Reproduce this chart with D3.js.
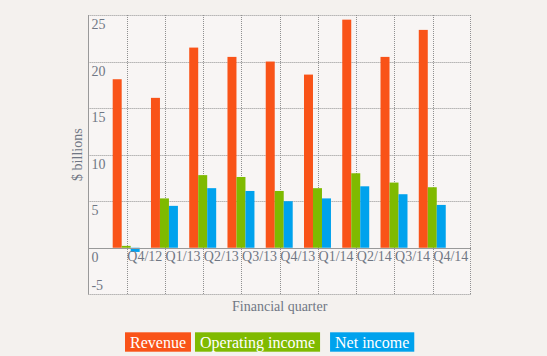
<!DOCTYPE html>
<html>
<head>
<meta charset="utf-8">
<script src="https://cdn.jsdelivr.net/npm/d3@7/dist/d3.min.js"></script>
<style>
  html, body { margin: 0; padding: 0; background: #f4f1ee; }
  svg { display: block; }
  text { font-family: "Liberation Serif", "Times New Roman", serif; }
</style>
</head>
<body>
<svg id="chart" width="547" height="356"></svg>
<script>
// ---- data ----
const quarters = ["Q4/12", "Q1/13", "Q2/13", "Q3/13", "Q4/13", "Q1/14", "Q2/14", "Q3/14", "Q4/14"];
const seriesNames = ["Revenue", "Operating income", "Net income"];
const revenue   = [18.1, 16.1, 21.5, 20.5, 20.0, 18.6, 24.5, 20.5, 23.4];
const operating = [0.2, 5.3, 7.8, 7.6, 6.1, 6.4, 8.0, 7.0, 6.5];
const netIncome = [-0.45, 4.5, 6.4, 6.1, 5.0, 5.3, 6.6, 5.75, 4.6];
const yTicks = [-5, 0, 5, 10, 15, 20, 25];
const colors = ["#f95318", "#7fba00", "#00a2ed"];

// ---- layout ----
const svg = d3.select("#chart");
const pLeft = 88.4, pRight = 471, pTop = 15, pBottom = 294.3;
const step = (pRight - pLeft) / (quarters.length + 1);

const y = d3.scaleLinear().domain([-5, 25]).range([pBottom, pTop]);
const x = d3.scaleBand().domain(quarters).range([pLeft + step, pRight]).padding(0);
const bw = x.bandwidth();
const xs = d3.scaleBand().domain(seriesNames).range([-0.365 * bw, 0.34 * bw]).padding(0);

const values = [revenue, operating, netIncome];

// plot background
svg.append("rect").attr("x", pLeft).attr("y", pTop)
  .attr("width", pRight - pLeft).attr("height", pBottom - pTop)
  .attr("fill", "#f8f5f4");

// grid
const grid = svg.append("g").attr("stroke", "#909090").attr("stroke-dasharray", "1,1").attr("fill", "none");
yTicks.filter(t => t !== 0).forEach(t => {
  grid.append("line").attr("x1", pLeft).attr("x2", pRight)
    .attr("y1", Math.round(y(t)) + 0.5).attr("y2", Math.round(y(t)) + 0.5);
});
quarters.forEach(q => {
  const gx = Math.round(x(q)) + 0.5;
  grid.append("line").attr("x1", gx).attr("x2", gx).attr("y1", pTop).attr("y2", pBottom);
});
grid.append("line").attr("x1", pRight - 0.5).attr("x2", pRight - 0.5).attr("y1", pTop).attr("y2", pBottom);

// bars
seriesNames.forEach((s, si) => {
  svg.append("g").selectAll("rect").data(quarters).join("rect")
    .attr("x", (q) => x(q) + xs(s))
    .attr("width", xs.bandwidth())
    .attr("y", (q, i) => y(Math.max(0, values[si][i])))
    .attr("height", (q, i) => Math.abs(y(values[si][i]) - y(0)))
    .attr("fill", colors[si]);
});

// axes lines
svg.append("line").attr("x1", pLeft).attr("x2", pRight)
  .attr("y1", Math.round(y(0)) + 0.5).attr("y2", Math.round(y(0)) + 0.5)
  .attr("stroke", "#999");
svg.append("line").attr("x1", Math.round(pLeft) + 0.5).attr("x2", Math.round(pLeft) + 0.5)
  .attr("y1", pTop).attr("y2", pBottom).attr("stroke", "#999");

// y tick labels (inside plot)
svg.append("g").selectAll("text").data(yTicks).join("text")
  .attr("x", pLeft + 3)
  .attr("y", d => Math.min(y(d) + 14, pBottom - 4))
  .attr("font-size", 14)
  .attr("fill", "#707784")
  .text(d => d);

// x tick labels
svg.append("g").selectAll("text").data(quarters).join("text")
  .attr("x", q => x(q) + bw / 2 - 1)
  .attr("y", y(0) + 13.5)
  .attr("text-anchor", "middle")
  .attr("font-size", 14)
  .attr("fill", "#707784")
  .text(q => q);

// axis titles
svg.append("text")
  .attr("transform", `translate(82,${(pTop + pBottom) / 2}) rotate(-90)`)
  .attr("text-anchor", "middle")
  .attr("font-size", 14)
  .attr("fill", "#707784")
  .text("$ billions");

svg.append("text")
  .attr("x", (pLeft + pRight) / 2)
  .attr("y", 311)
  .attr("text-anchor", "middle")
  .attr("font-size", 14)
  .attr("fill", "#707784")
  .text("Financial quarter");

// legend
const legend = svg.append("g");
let lx = 125;
const gaps = [4, 10, 0];
seriesNames.forEach((s, i) => {
  const g = legend.append("g");
  const rect = g.append("rect").attr("x", lx).attr("y", 332.3).attr("height", 19.4).attr("fill", colors[i]);
  const t = g.append("text").attr("x", lx + 5).attr("y", 347.5)
    .attr("font-size", 16).attr("fill", "#ffffff").text(s);
  const w = t.node().getComputedTextLength() + 10;
  rect.attr("width", w);
  lx += w + gaps[i];
});
</script>
</body>
</html>
